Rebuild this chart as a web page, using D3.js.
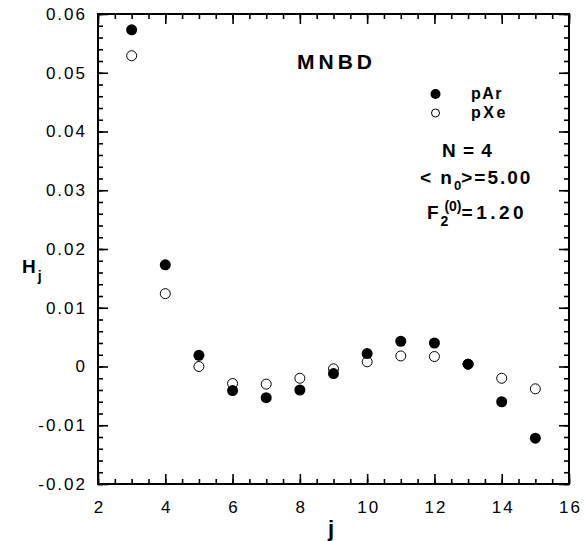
<html>
<head><meta charset="utf-8"></head>
<body style="margin:0;background:#fff">
<svg id="svg" width="584" height="541"></svg>
<script src="https://d3js.org/d3.v7.min.js"></script>
<script>

var js = [3, 4, 5, 6, 7, 8, 9, 10, 11, 12, 13, 14, 15];
var pAr = [0.0573, 0.0173, 0.0019, -0.0041, -0.0053, -0.0040, -0.0012, 0.0022, 0.0043, 0.0040, 0.0004, -0.0060, -0.0122];
var pXe = [0.0529, 0.0124, 0.0000, -0.0029, -0.0030, -0.0020, -0.0004, 0.0008, 0.0018, 0.0017, 0.0004, -0.0020, -0.0038];
var xTicks = [2, 4, 6, 8, 10, 12, 14, 16];
var yTicks = [-0.02, -0.01, 0, 0.01, 0.02, 0.03, 0.04, 0.05, 0.06];

var L = 98, R = 569, T = 14, B = 484;
var x = d3.scaleLinear().domain([2, 16]).range([L, R]);
var y = d3.scaleLinear().domain([-0.02, 0.06]).range([B, T]);

var svg = d3.select("#svg");
var font = "'Liberation Sans', Arial, Helvetica, sans-serif";

var xMinor = d3.range(2, 16.001, 0.5);
var yMinor = d3.range(-0.02, 0.0601, 0.002);

function fmtY(v) {
  if (Math.abs(v) < 1e-9) return "0";
  return (v < 0 ? "-" : "") + Math.abs(v).toFixed(2);
}

function styleAxis(g) {
  g.select(".domain").remove();
  g.selectAll("line").attr("stroke", "#000").attr("stroke-width", 1.6);
  g.selectAll("text").style("font-family", font).style("font-size", "17px")
    .style("letter-spacing", "2px").attr("fill", "#000");
}

// minor ticks
svg.append("g").attr("transform", "translate(0," + B + ")")
  .call(d3.axisBottom(x).tickValues(xMinor).tickSize(-5).tickFormat("")).call(styleAxis);
svg.append("g").attr("transform", "translate(0," + T + ")")
  .call(d3.axisTop(x).tickValues(xMinor).tickSize(-5).tickFormat("")).call(styleAxis);
svg.append("g").attr("transform", "translate(" + L + ",0)")
  .call(d3.axisLeft(y).tickValues(yMinor).tickSize(-5).tickFormat("")).call(styleAxis);
svg.append("g").attr("transform", "translate(" + R + ",0)")
  .call(d3.axisRight(y).tickValues(yMinor).tickSize(-5).tickFormat("")).call(styleAxis);

// major ticks
svg.append("g").attr("transform", "translate(0," + B + ")")
  .call(d3.axisBottom(x).tickValues(xTicks).tickSize(-10).tickPadding(17).tickFormat(d3.format("d")))
  .call(styleAxis)
  .call(g => g.selectAll("text").attr("dx", "1px"));
svg.append("g").attr("transform", "translate(0," + T + ")")
  .call(d3.axisTop(x).tickValues(xTicks).tickSize(-10).tickFormat("")).call(styleAxis);
svg.append("g").attr("transform", "translate(" + L + ",0)")
  .call(d3.axisLeft(y).tickValues(yTicks).tickSize(-10).tickPadding(11).tickFormat(fmtY))
  .call(styleAxis);
svg.append("g").attr("transform", "translate(" + R + ",0)")
  .call(d3.axisRight(y).tickValues(yTicks).tickSize(-10).tickFormat("")).call(styleAxis);

// frame
svg.append("rect").attr("x", L).attr("y", T).attr("width", R - L).attr("height", B - T)
  .attr("fill", "none").attr("stroke", "#000").attr("stroke-width", 2);

// data
svg.append("g").selectAll("circle").data(js)
  .join("circle")
  .attr("cx", d => x(d)).attr("cy", (d, i) => y(pAr[i])).attr("r", 5.5)
  .attr("fill", "#000");
svg.append("g").selectAll("circle").data(js)
  .join("circle")
  .attr("cx", d => x(d)).attr("cy", (d, i) => y(pXe[i])).attr("r", 5)
  .attr("fill", "none").attr("stroke", "#000").attr("stroke-width", 1);

// axis titles
svg.append("text").attr("x", 328).attr("y", 536)
  .style("font-family", font).style("font-size", "22px").style("font-weight", "bold").text("j");
var ht = svg.append("text").attr("x", 22).attr("y", 273)
  .style("font-family", font).style("font-size", "19px").style("font-weight", "bold");
ht.append("tspan").text("H");
ht.append("tspan").attr("dx", 2).attr("dy", 8).style("font-size", "14px").text("j");

// annotations
svg.append("text").attr("x", 297).attr("y", 69)
  .style("font-family", font).style("font-size", "21px").style("font-weight", "bold")
  .style("letter-spacing", "4px").text("MNBD");

svg.append("circle").attr("cx", 435.5).attr("cy", 94).attr("r", 5).attr("fill", "#000");
svg.append("circle").attr("cx", 435.5).attr("cy", 113).attr("r", 4)
  .attr("fill", "none").attr("stroke", "#000").attr("stroke-width", 1);
svg.append("text").attr("x", 471).attr("y", 99)
  .style("font-family", font).style("font-size", "16px").style("font-weight", "bold")
  .style("letter-spacing", "1.5px").text("pAr");
svg.append("text").attr("x", 471).attr("y", 118)
  .style("font-family", font).style("font-size", "16px").style("font-weight", "bold")
  .style("letter-spacing", "2.5px").text("pXe");

function ann(xp, yp) {
  return svg.append("text").attr("x", xp).attr("y", yp)
    .style("font-family", font).style("font-size", "19px").style("font-weight", "bold")
    .style("letter-spacing", "2px");
}
ann(442, 157).style("letter-spacing", "1px").text("N = 4");
var t2 = ann(420, 184);
t2.append("tspan").text("< n");
t2.append("tspan").attr("dy", 6).style("font-size", "13px").style("letter-spacing", "0px").text("0");
t2.append("tspan").attr("dy", -6).text(">=5.00");
var t3 = ann(427, 219);
t3.append("tspan").text("F");
t3.append("tspan").attr("dy", 7).style("font-size", "14px").style("letter-spacing", "0px").text("2");
t3.append("tspan").attr("dy", -15).attr("dx", -4).style("font-size", "14px").style("letter-spacing", "0px").text("(0)");
t3.append("tspan").attr("dy", 8).style("letter-spacing", "3.5px").text("=1.20");

</script>
</body>
</html>
